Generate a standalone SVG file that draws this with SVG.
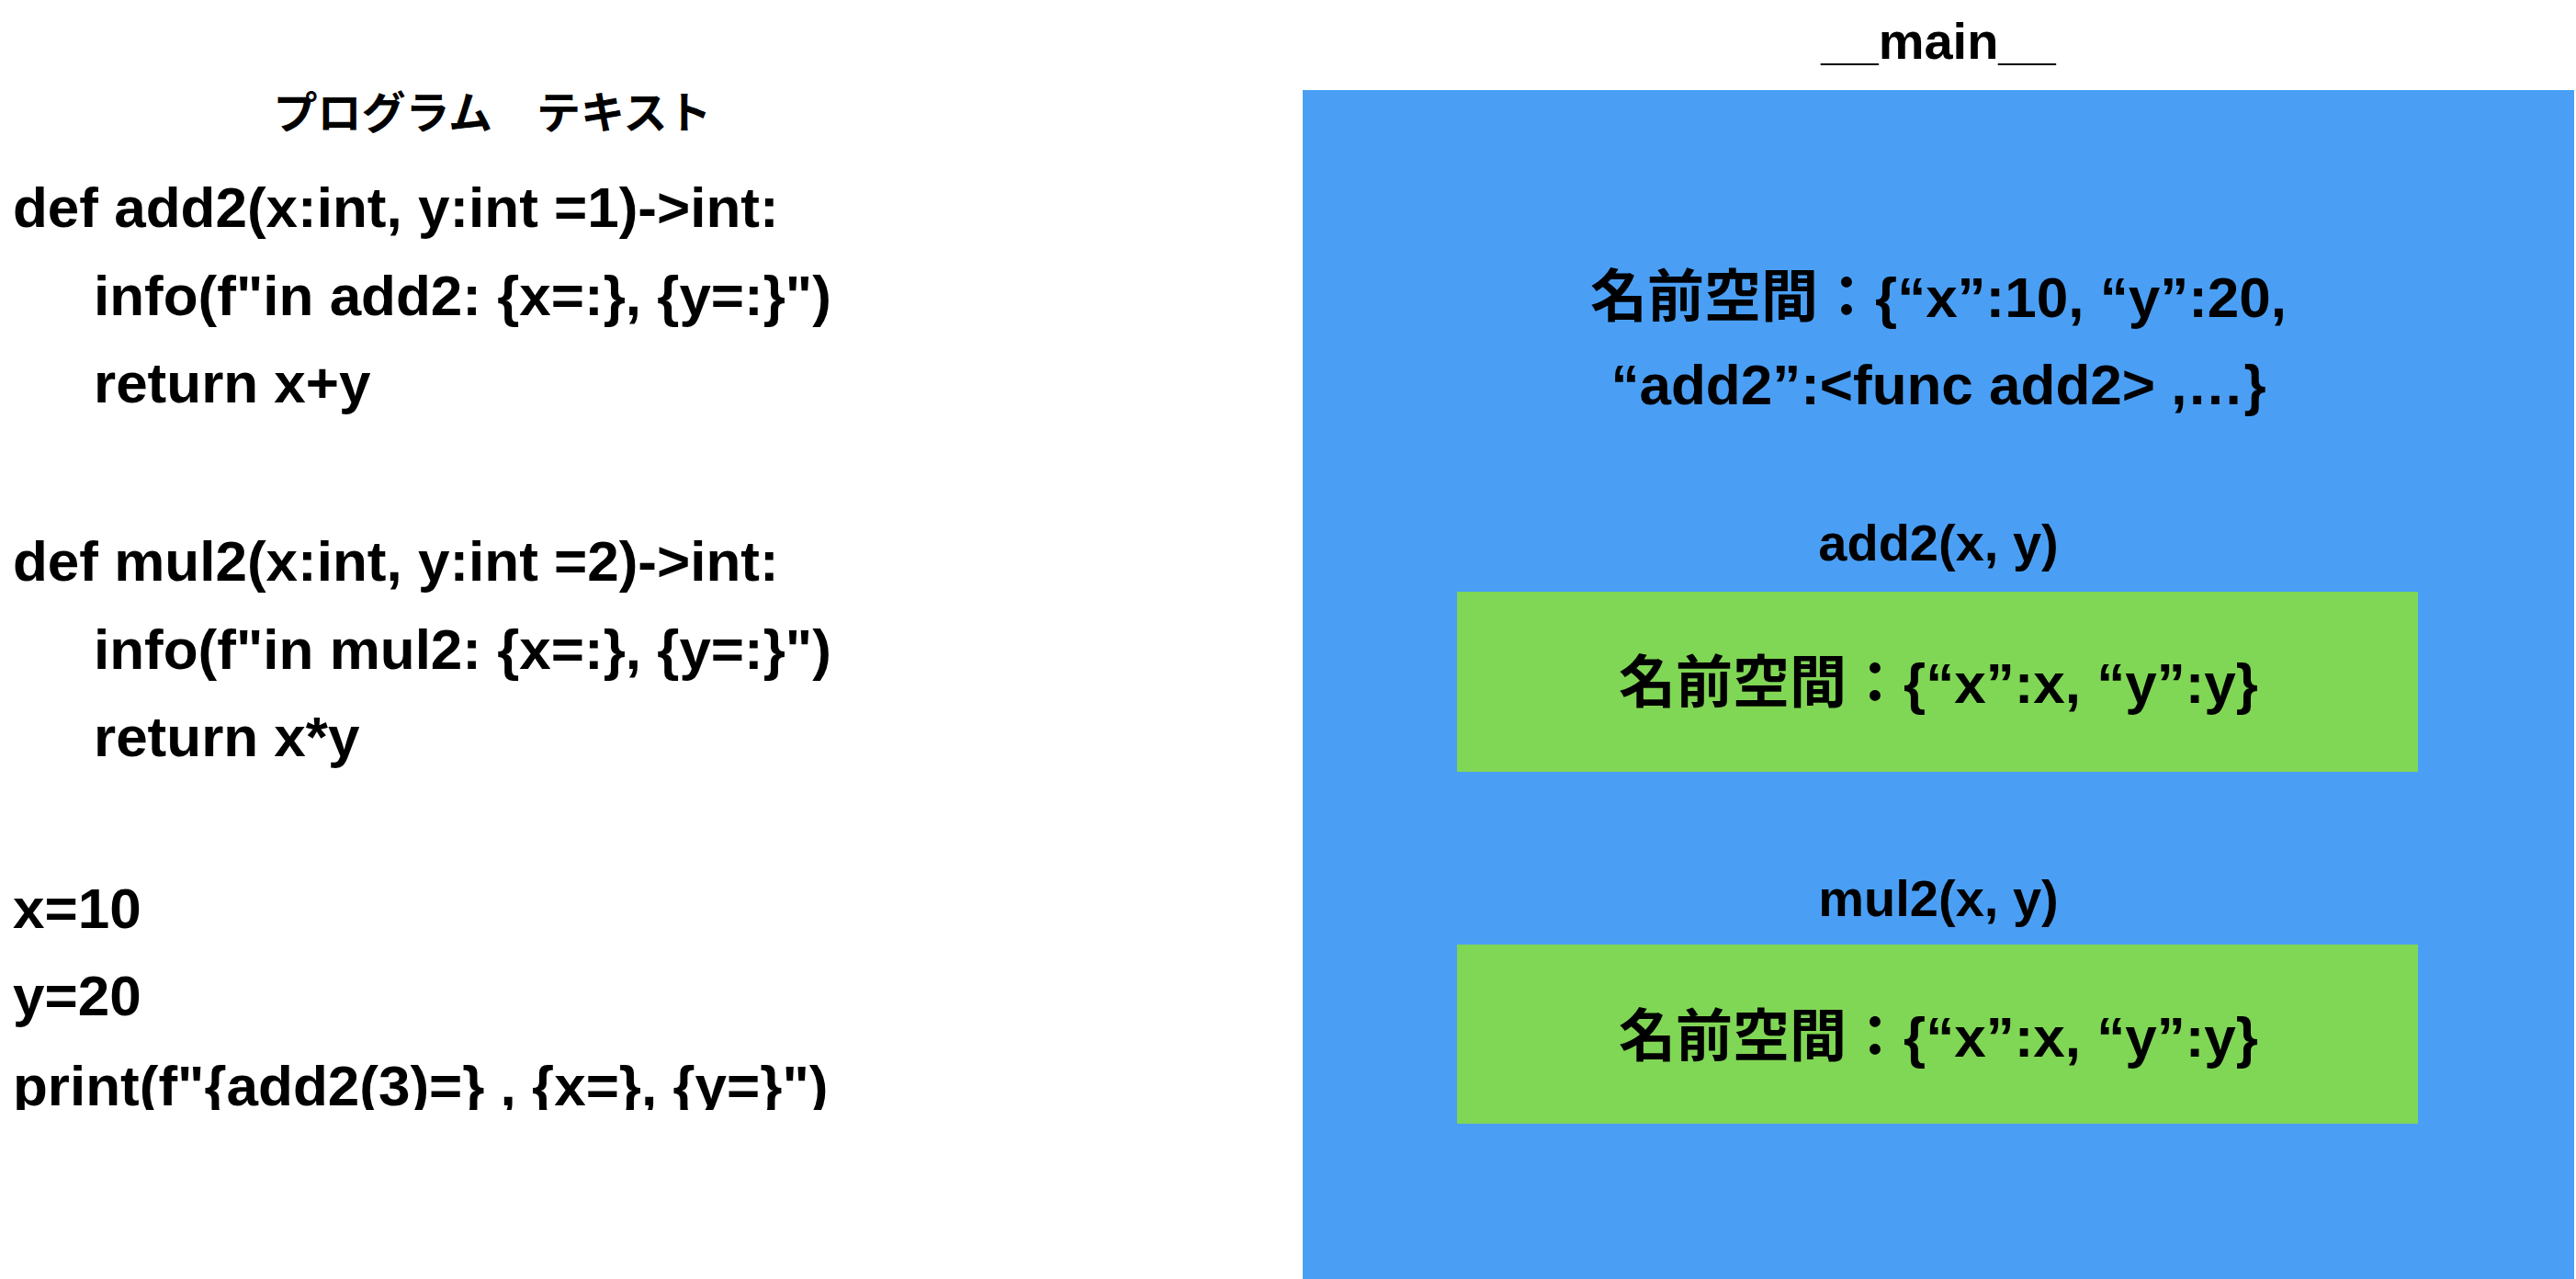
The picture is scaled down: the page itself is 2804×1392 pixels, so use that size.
<svg xmlns="http://www.w3.org/2000/svg" width="2804" height="1392" viewBox="0 0 2804 1392">
<style>
text{font-family:"Liberation Sans","Noto Sans CJK JP",sans-serif;font-weight:bold;fill:#000}
.code{font-size:62px}
.mid{text-anchor:middle}
</style>
<defs><clipPath id="c"><rect x="0" y="0" width="1400" height="1208"/></clipPath></defs>
<rect width="2804" height="1392" fill="#fff"/>
<g id="program">
<text x="536" y="140" class="mid" font-size="48">プログラム　テキスト</text>
<g class="code" clip-path="url(#c)">
<text x="14" y="247">def add2(x:int, y:int =1)-&gt;int:</text>
<text x="102" y="343">info(f"in add2: {x=:}, {y=:}")</text>
<text x="102" y="438">return x+y</text>
<text x="14" y="632">def mul2(x:int, y:int =2)-&gt;int:</text>
<text x="102" y="728">info(f"in mul2: {x=:}, {y=:}")</text>
<text x="102" y="823">return x*y</text>
<text x="14" y="1010">x=10</text>
<text x="14" y="1105">y=20</text>
<text x="14" y="1203">print(f"{add2(3)=} , {x=}, {y=}")</text>
</g>
</g>
<g id="main">
<text x="2110" y="64" class="mid" font-size="56">__main__</text>
<rect x="1418" y="98" width="1384" height="1294" fill="#4A9FF5"/>
<text x="2110" y="345" class="mid" font-size="62">名前空間：{“x”:10, “y”:20,</text>
<text x="2110" y="440" class="mid" font-size="62">“add2”:&lt;func add2&gt; ,…}</text>
</g>
<g id="add2">
<text x="2110" y="610" class="mid" font-size="56">add2(x, y)</text>
<rect x="1586" y="644" width="1046" height="196" fill="#80D655"/>
<text x="2110" y="765" class="mid" font-size="62">名前空間：{“x”:x, “y”:y}</text>
</g>
<g id="mul2">
<text x="2110" y="997" class="mid" font-size="56">mul2(x, y)</text>
<rect x="1586" y="1028" width="1046" height="195" fill="#80D655"/>
<text x="2110" y="1150" class="mid" font-size="62">名前空間：{“x”:x, “y”:y}</text>
</g>
<g id="connectors"/>
</svg>
